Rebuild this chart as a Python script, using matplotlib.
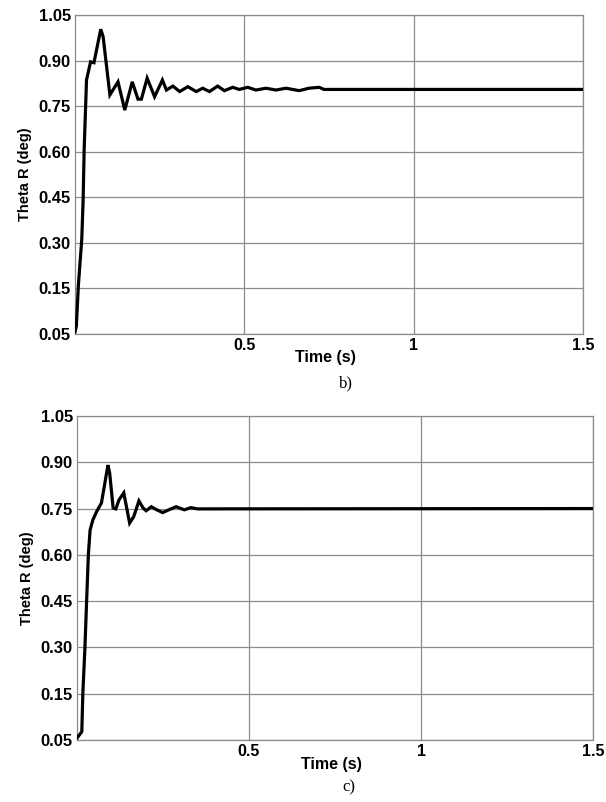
import matplotlib
matplotlib.use("Agg")
import matplotlib.pyplot as plt
from matplotlib.transforms import blended_transform_factory

# ---- data ----
t_b = [0.0, 0.004, 0.010, 0.020, 0.024, 0.027, 0.034, 0.046, 0.056, 0.076, 0.083,
       0.103, 0.127, 0.147, 0.169, 0.186, 0.196, 0.213, 0.235, 0.258, 0.270, 0.289,
       0.309, 0.333, 0.358, 0.377, 0.397, 0.421, 0.441, 0.466, 0.485, 0.510, 0.534,
       0.564, 0.593, 0.623, 0.662, 0.691, 0.721, 0.735, 1.5]
y_b = [0.007, 0.026, 0.161, 0.312, 0.441, 0.606, 0.836, 0.896, 0.893, 1.003, 0.979,
       0.787, 0.830, 0.737, 0.830, 0.773, 0.773, 0.842, 0.781, 0.836, 0.803, 0.816,
       0.798, 0.814, 0.798, 0.809, 0.798, 0.816, 0.801, 0.812, 0.805, 0.812, 0.803,
       0.809, 0.803, 0.809, 0.801, 0.809, 0.812, 0.805, 0.805]

t_c = [0.0, 0.014, 0.017, 0.023, 0.028, 0.033, 0.038, 0.046, 0.057, 0.071, 0.090,
       0.095, 0.105, 0.113, 0.122, 0.136, 0.153, 0.165, 0.180, 0.192, 0.201, 0.216,
       0.230, 0.249, 0.269, 0.288, 0.312, 0.331, 0.350, 1.5]
y_c = [0.006, 0.027, 0.152, 0.298, 0.451, 0.600, 0.680, 0.713, 0.740, 0.768, 0.891,
       0.865, 0.752, 0.749, 0.778, 0.801, 0.703, 0.724, 0.775, 0.752, 0.743, 0.756,
       0.747, 0.737, 0.747, 0.756, 0.746, 0.753, 0.749, 0.750]

ytick_pos = [0.0, 0.15, 0.30, 0.45, 0.60, 0.75, 0.90, 1.05]
ytick_labels = ["0.05", "0.15", "0.30", "0.45", "0.60", "0.75", "0.90", "1.05"]
xtick_pos = [0.5, 1.0, 1.5]
xtick_labels = ["0.5", "1", "1.5"]

W, H = 606, 802
fig = plt.figure(figsize=(W / 100, H / 100), dpi=100)

def make_axes(l, r, t, b):
    return fig.add_axes([l / W, 1 - b / H, (r - l) / W, (b - t) / H])

panels = [
    (make_axes(75, 583, 15, 334), t_b, y_b, "b)", 0.80, -0.155),
    (make_axes(77, 593, 416, 740), t_c, y_c, "c)", 0.79, -0.145),
]

sans = ["Liberation Sans", "DejaVu Sans"]
serif = ["Liberation Serif", "DejaVu Serif"]

for ax, t, y, tag, tagx, tagy in panels:
    ax.plot(t, y, color="black", lw=2.3, solid_joinstyle="miter", zorder=3)
    ax.set_xlim(0, 1.5)
    ax.set_ylim(0, 1.05)
    ax.set_yticks(ytick_pos)
    ax.set_yticklabels(ytick_labels, fontfamily=sans, fontweight="bold", fontsize=12)
    ax.set_xticks(xtick_pos)
    ax.set_xticklabels(xtick_labels, fontfamily=sans, fontweight="bold", fontsize=11.5)
    ax.tick_params(length=0, pad=3)
    ax.tick_params(axis="x", pad=3)
    ax.grid(True, color="#8c8c8c", lw=0.9)
    ax.set_axisbelow(True)
    for s in ax.spines.values():
        s.set_color("#8c8c8c")
        s.set_linewidth(0.9)
    ax.set_ylabel("Theta R (deg)", fontfamily=sans, fontweight="bold", fontsize=10.5,
                  labelpad=5)
    tr = blended_transform_factory(ax.transData, ax.transAxes)
    ax.text(0.74, -0.075, "Time (s)", transform=tr, ha="center", va="center",
            fontfamily=sans, fontweight="bold", fontsize=11.5)
    ax.text(tagx, tagy, tag, transform=tr, ha="center", va="center",
            fontfamily=serif, fontsize=12)

fig.savefig("out.png", dpi=100)
